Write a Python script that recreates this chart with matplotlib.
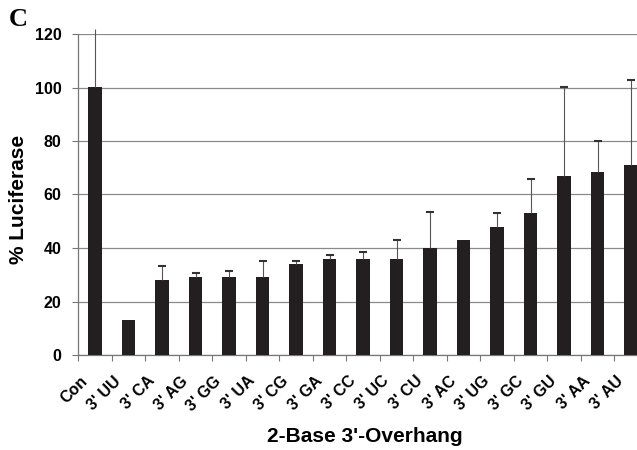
import matplotlib
matplotlib.use("Agg")
import matplotlib.pyplot as plt
import matplotlib.transforms as mtransforms
import numpy as np

# values
labels = ["Con", "3' UU", "3' CA", "3' AG", "3' GG", "3' UA", "3' CG", "3' GA",
          "3' CC", "3' UC", "3' CU", "3' AC", "3' UG", "3' GC", "3' GU", "3' AA", "3' AU"]
luciferase = [100.3, 13.2, 28.0, 29.3, 29.3, 29.3, 34.0, 36.0,
              36.0, 36.0, 40.0, 43.1, 47.9, 53.0, 67.0, 68.3, 71.0]
err_up = [21.7, 0.0, 5.4, 1.2, 2.1, 5.7, 1.0, 1.5,
          2.6, 7.1, 13.3, 0.0, 5.1, 12.8, 33.3, 11.7, 31.9]

plt.rcParams["font.family"] = ["Liberation Sans", "DejaVu Sans"]
plt.rcParams["font.weight"] = "bold"

fig = plt.figure(figsize=(6.37, 4.5), dpi=100)
ax = fig.add_axes([78.3 / 637, 95 / 450, 569.5 / 637, 321 / 450])

x = np.arange(len(labels))
val = np.array(luciferase)
eu = np.array(err_up)

ax.set_axisbelow(True)
ax.yaxis.grid(True, color="#8a8a8a", lw=0.9)
ax.bar(x, val, width=0.4, color="#231f20", zorder=3)

# upper error bars only: stem + cap (Con's cap is off the top of the plot)
has = eu > 0
ax.vlines(x[has], val[has], val[has] + eu[has], color="#555555", lw=0.8,
          zorder=4, clip_on=False)
capped = has & (x > 0)
ax.plot(x[capped], val[capped] + eu[capped], ls="none", marker="_",
        ms=5.5, mew=1.5, color="#333333", zorder=4)

ax.set_xlim(-0.5, len(labels) - 0.5)
ax.set_ylim(0, 120)
ax.set_yticks(np.arange(0, 121, 20))
ax.tick_params(axis="y", length=4, width=0.8, color="#777777", pad=8, labelsize=11.5)

ax.set_xticks(x)
ax.set_xticks(np.arange(-0.5, len(labels)), minor=True)
ax.tick_params(axis="x", which="major", length=0, pad=17, labelsize=11.5)
ax.tick_params(axis="x", which="minor", length=4, width=0.8, color="#777777")
ax.set_xticklabels(labels, rotation=45, ha="right", va="center",
                   rotation_mode="anchor", fontweight="bold")
shift = mtransforms.ScaledTranslation(-10 / 100, 0, fig.dpi_scale_trans)
for t in ax.get_xticklabels():
    t.set_transform(t.get_transform() + shift)

for s in ("top", "right"):
    ax.spines[s].set_visible(False)
for s in ("left", "bottom"):
    ax.spines[s].set_color("#777777")
    ax.spines[s].set_linewidth(0.9)

fig.text(19 / 637, 1 - 199 / 450, "% Luciferase", rotation=90,
         ha="center", va="center", fontsize=15, fontweight="bold")
fig.text(365 / 637, 1 - 437 / 450, "2-Base 3'-Overhang",
         ha="center", va="center", fontsize=15, fontweight="bold")
fig.text(9 / 637, 1 - 8 / 450, "C", ha="left", va="top", fontsize=19,
         fontweight="bold", family=["Liberation Serif", "DejaVu Serif"])

fig.savefig("out.png", dpi=100)
